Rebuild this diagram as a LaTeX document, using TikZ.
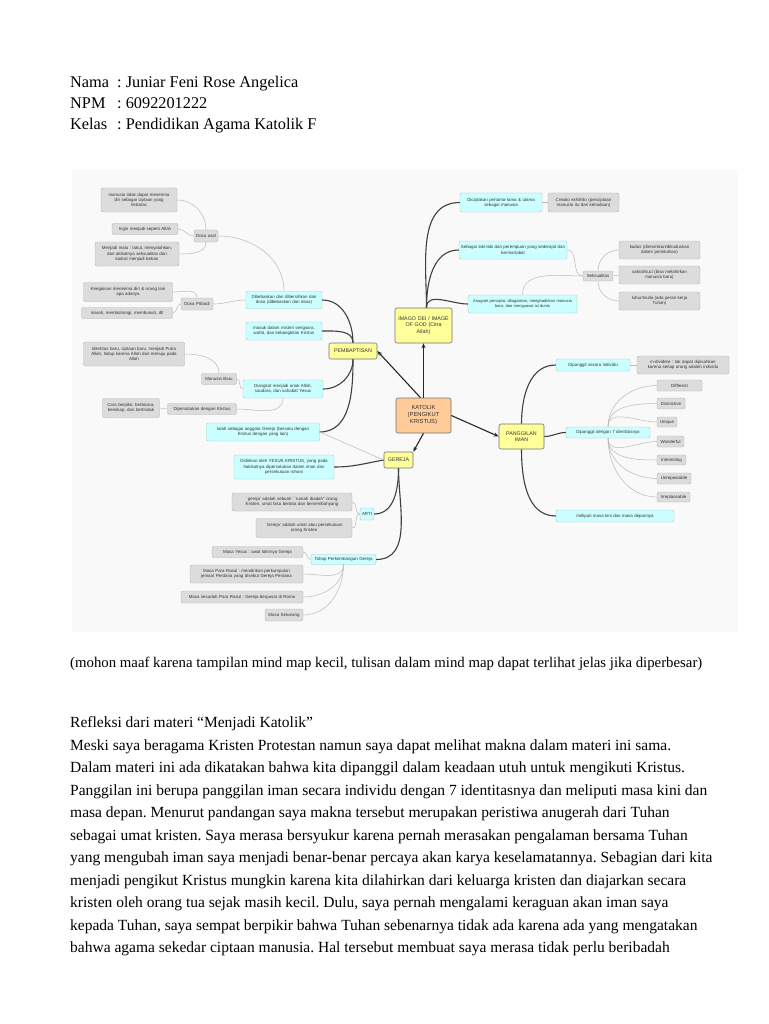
\documentclass[tikz,border=0pt]{standalone}
\usepackage{fontspec}
\setmainfont{Liberation Serif}
\newfontfamily\mmfont{Liberation Sans}
\usetikzlibrary{arrows.meta}
\definecolor{gbfill}{HTML}{DCDCDC}
\definecolor{gbdraw}{HTML}{B4B4B4}
\definecolor{cbfill}{HTML}{CCFFFF}
\definecolor{cbdraw}{HTML}{99CCCC}
\definecolor{ybfill}{HTML}{FFFF99}
\definecolor{obfill}{HTML}{FFCC99}
\definecolor{mapbg}{HTML}{F9F9F9}
\frenchspacing
\begin{document}
\begin{tikzpicture}[x=1pt,y=-1pt,
 mm/.style={font=\mmfont\fontsize{4.4}{5.2}\selectfont, text=black!80, rounded corners=2pt, align=center, inner sep=1pt, draw, line width=0.4pt},
 gb/.style={mm, fill=gbfill, draw=gbdraw},
 cb/.style={mm, fill=cbfill, draw=cbdraw},
 yb/.style={mm, fill=ybfill, draw=black!55, font=\mmfont\fontsize{5.3}{6.4}\selectfont, line width=0.6pt},
 ob/.style={yb, fill=obfill, font=\mmfont\fontsize{5.8}{7}\selectfont},
 mainarrow/.style={-{Stealth[length=5pt,width=4pt]}, line width=1.1pt, black!85},
 tb/.style={line width=1.1pt, black!75},
 lb/.style={line width=0.5pt, gray!55},
 hdr/.style={anchor=base west, inner sep=0, font=\fontsize{16.3}{18}\selectfont},
 body/.style={anchor=base west, inner sep=0, font=\fontsize{15.5}{18}\selectfont},
]
\useasboundingbox (0,0) rectangle (768,1024);
\fill[white] (0,0) rectangle (768,1024);
\fill[mapbg] (72,170) rectangle (738,632);

% header
\node[hdr] (l1) at (70,88) {Nama};
\node[hdr] (c1x) at (117,88) {: Juniar Feni Rose Angelica};
\node[hdr] (l2) at (70,109) {NPM};
\node[hdr] (c2x) at (117,109) {: 6092201222};
\node[hdr] (l3) at (70,129.5) {Kelas};
\node[hdr] (c3x) at (117,129.5) {: Pendidikan Agama Katolik F};

% ---------- mind map nodes ----------
% central
\node[ob, minimum width=55pt, minimum height=35pt, text width=53pt] (katolik) at (423.5,415.5) {KATOLIK\\(PENGIKUT\\KRISTUS)};
\node[yb, minimum width=57pt, minimum height=35pt, text width=55pt] (imago) at (423.5,325.5) {IMAGO DEI / IMAGE\\OF GOD (Citra\\Allah)};
\node[yb, minimum width=48pt, minimum height=16pt, text width=46pt] (pembaptisan) at (353,351) {PEMBAPTISAN};
\node[yb, minimum width=29pt, minimum height=16pt, text width=27pt] (gereja) at (398.5,460) {GEREJA};
\node[yb, minimum width=45pt, minimum height=25pt, text width=43pt] (panggilan) at (521.5,436.5) {PANGGILAN\\IMAN};

% left: pembaptisan
\node[cb, minimum height=17pt, text width=74pt] (b1) at (284,300) {Dibebaskan dan dibersihkan dari\\dosa (dibebaskan dari dosa)};
\node[cb, minimum height=18pt, text width=74pt] (b2) at (284,331) {masuk dalam misteri sengsara,\\wafat, dan kebangkitan Kristus};
\node[cb, minimum height=18pt, text width=78pt] (b3) at (283,389) {Diangkat menjadi anak Allah,\\saudara, dan sahabat Yesus};
\node[cb, minimum height=18pt, text width=111pt] (b4) at (263,432) {Ialah sebagai anggota Gereja (bersatu dengan\\Kristus dengan yang lain)};

\node[gb, minimum height=12pt, text width=22pt] (dosaasal) at (206,236) {Dosa asal};
\node[gb, minimum height=24pt, text width=74pt] (g1) at (139,200) {manusia tidak dapat menerima\\diri sebagai ciptaan yang\\terbatas};
\node[gb, minimum height=11pt, text width=64pt] (g2) at (145,229) {Ingin menjadi seperti Allah};
\node[gb, minimum height=24pt, text width=82pt] (g3) at (137,254) {Menjadi malu : takut, menyalahkan,\\dan akibatnya seksualitas dan\\kodrat menjadi beban};
\node[gb, minimum height=12pt, text width=30pt] (dosapribadi) at (197,304) {Dosa Pribadi};
\node[gb, minimum height=19pt, text width=87pt] (g5) at (128,292) {Keegoisan menerima diri \& orang lain\\apa adanya};
\node[gb, minimum height=11pt, text width=89pt] (g6) at (127,313) {marah, membohongi, membunuh, dll};
\node[gb, minimum height=24pt, text width=99pt] (g7) at (134,354) {Identitas baru, ciptaan baru, menjadi Putra\\Allah, hidup karena Allah dan menuju pada\\Allah};
\node[gb, minimum height=11pt, text width=33pt] (manusiabaru) at (219,379) {Manusia Baru};
\node[gb, minimum height=19pt, text width=55pt] (g8) at (131,408) {Cara berpikir, berbicara,\\bersikap, dan bertindak};
\node[gb, minimum height=11pt, text width=67pt] (dipersatukan) at (202,409) {Dipersatukan dengan Kristus};

% gereja
\node[cb, minimum height=24pt, text width=98pt] (b5) at (284,467) {Didirikan oleh YESUS KRISTUS, yang pada\\hakikatnya dipersatukan dalam iman dan\\persekutuan rohani};
\node[cb, minimum height=12pt, text width=12pt] (arti) at (367,514) {ARTI};
\node[gb, minimum height=18pt, text width=118pt] (g9) at (292,502) {`gereja' adalah sebuah ``rumah ibadah'' orang\\Kristen, umat bisa berdoa dan bersembahyang};
\node[gb, minimum height=19pt, text width=94pt] (g10) at (304,528) {`Gereja' adalah umat atau persekutuan\\orang Kristen};
\node[cb, minimum height=10pt, text width=63pt] (tahap) at (343.5,559.5) {Tahap Perkembangan Gereja};
\node[gb, minimum height=11pt, text width=89pt] (masayesus) at (257.5,552) {Masa Yesus : awal lahirnya Gereja};
\node[gb, minimum height=18pt, text width=111pt] (masarasul) at (246.5,574) {Masa Para Rasul : mendirikan perkumpulan\\jemaat Perdana yang disebut Gereja Perdana};
\node[gb, minimum height=12pt, text width=120pt] (masasesudah) at (242,597) {Masa sesudah Para Rasul : Gereja berpusat di Roma};
\node[gb, minimum height=12pt, text width=36pt] (masasekarang) at (284,615) {Masa Sekarang};

% right: imago dei
\node[cb, minimum height=19pt, text width=80pt] (b6) at (501,202.5) {Diciptakan pertama-tama \& utama\\sebagai manusia};
\node[gb, minimum height=19pt, text width=69pt] (creatio) at (583.5,202.5) {Creatio exNihilo (penciptaan\\manusia itu dari ketiadaan)};
\node[cb, minimum height=18pt, text width=106pt] (b7) at (513,250) {Sebagai laki-laki dan perempuan yang sederajat dan\\bermartabat};
\node[cb, minimum height=18pt, text width=107pt, font=\mmfont\fontsize{4.05}{5.2}\selectfont] (b8) at (522.5,304) {Anugrah pencipta: ditugaskan, menghadirkan manusia\\baru, dan menguasai isi dunia};
\node[gb, minimum height=10pt, text width=28pt] (seksualitas) at (598,276) {Seksualitas};
\node[gb, minimum height=18pt, text width=79pt] (kudus) at (659.5,250) {kudus (diresmikan/dikuduskan\\dalam pernikahan)};
\node[gb, minimum height=18pt, text width=79pt] (sakral) at (659.5,275) {sakral/suci (bisa melahirkan\\manusia baru)};
\node[gb, minimum height=18pt, text width=79pt] (luhur) at (659.5,301) {luhur/mulia (ada peran kerja\\Tuhan)};

% right: panggilan iman
\node[cb, minimum height=12pt, text width=72pt] (individu) at (593,365) {Dipanggil secara individu};
\node[gb, minimum height=18pt, text width=90pt] (individere) at (683,365) {in-dividere : tak dapat dipisahkan\\karena setiap orang adalah individu};
\node[cb, minimum height=11pt, text width=82pt] (tujuh) at (608,432.5) {Dipanggil dengan 7 identitasnya};
\node[gb, minimum height=11pt, text width=43pt] (different) at (679.5,385.5) {Different};
\node[gb, minimum height=11pt, text width=26pt] (distinctive) at (671,403.5) {Distinctive};
\node[gb, minimum height=10pt, text width=18pt] (unique) at (667,422) {Unique};
\node[gb, minimum height=11pt, text width=25pt] (wonderful) at (670.5,441.5) {Wonderful};
\node[gb, minimum height=10pt, text width=27pt] (interesting) at (671.5,460) {Interesting};
\node[gb, minimum height=11pt, text width=32pt] (unrepeatable) at (674,478.5) {Unrepeatable};
\node[gb, minimum height=10pt, text width=31pt] (irreplaceable) at (673.5,497) {Irreplaceable};
\node[cb, minimum height=12pt, text width=116pt] (meliputi) at (615,516) {meliputi masa kini dan masa depannya};

% ---------- connectors ----------
% main arrows
\draw[mainarrow] (katolik.north) -- (imago.south);
\draw[mainarrow] ([xshift=-3pt]katolik.north) -- (pembaptisan.east);
\draw[mainarrow] (katolik.east) -- (panggilan.west);
\draw[mainarrow] (katolik.south) -- (gereja.north east);

% thick branches
\draw[tb] ([xshift=3pt]imago.north) to[out=90,in=180] (b6.west);
\draw[tb] ([xshift=3pt]imago.north) to[out=90,in=180] (b7.west);
\draw[tb] ([xshift=3pt]imago.north) to[out=90,in=180] (b8.west);
\draw[tb] (pembaptisan.north) to[out=90,in=0] (b1.east);
\draw[tb] (pembaptisan.north) to[out=90,in=0] (b2.east);
\draw[tb] (pembaptisan.south) to[out=-90,in=0] (b3.east);
\draw[tb] (pembaptisan.south) to[out=-90,in=0] (b4.east);
\draw[tb] (gereja.west) to[out=190,in=0] (b5.east);
\draw[tb] (gereja.south) to[out=-90,in=0] (arti.east);
\draw[tb] (gereja.south) to[out=-90,in=0] (tahap.east);
\draw[tb] (panggilan.north) to[out=90,in=180] (individu.west);
\draw[tb] (panggilan.east) to[out=0,in=180] (tujuh.west);
\draw[tb] (panggilan.south) to[out=-90,in=180] (meliputi.west);

% light branches
\draw[lb] (b4.east) -- (gereja.west);
\draw[lb] (b1.north) to[out=90,in=0] (dosaasal.east);
\draw[lb] (b1.west) to[out=180,in=0] (dosapribadi.east);
\draw[lb] (dosaasal.north) to[out=90,in=0] (g1.east);
\draw[lb] (dosaasal.west) to[out=180,in=0] (g2.east);
\draw[lb] (dosaasal.south) to[out=-90,in=0] (g3.east);
\draw[lb] (dosapribadi.north) to[out=90,in=0] (g5.east);
\draw[lb] (dosapribadi.west) to[out=180,in=0] (g6.east);
\draw[lb] (b3.west) to[out=180,in=0] (manusiabaru.east);
\draw[lb] (manusiabaru.north) to[out=90,in=0] (g7.east);
\draw[lb] (b3.south) to[out=-90,in=0] (dipersatukan.east);
\draw[lb] (dipersatukan.west) -- (g8.east);
\draw[lb] (arti.west) to[out=180,in=0] (g9.east);
\draw[lb] (arti.west) to[out=180,in=0] (g10.east);
\draw[lb] (tahap.west) to[out=180,in=0] (masayesus.east);
\draw[lb] (tahap.south) to[out=-90,in=0] (masarasul.east);
\draw[lb] (tahap.south) to[out=-90,in=0] (masasesudah.east);
\draw[lb] (tahap.south) to[out=-90,in=0] (masasekarang.east);
\draw[lb] (b6.east) -- (creatio.west);
\draw[lb] (b7.east) to[out=0,in=180] (seksualitas.west);
\draw[lb] (b8.north) to[out=90,in=180] (seksualitas.west);
\draw[lb] (seksualitas.north) to[out=90,in=180] (kudus.west);
\draw[lb] (seksualitas.east) -- (sakral.west);
\draw[lb] (seksualitas.south) to[out=-90,in=180] (luhur.west);
\draw[lb] (individu.east) -- (individere.west);
\draw[lb] (tujuh.north) to[out=90,in=180] (different.west);
\draw[lb] (tujuh.north) to[out=90,in=180] (distinctive.west);
\draw[lb] (tujuh.north) to[out=90,in=180] (unique.west);
\draw[lb] (tujuh.south) to[out=-90,in=180] (wonderful.west);
\draw[lb] (tujuh.south) to[out=-90,in=180] (interesting.west);
\draw[lb] (tujuh.south) to[out=-90,in=180] (unrepeatable.west);
\draw[lb] (tujuh.south) to[out=-90,in=180] (irreplaceable.west);

% caption
\node[anchor=base west, inner sep=0, font=\fontsize{14.8}{16}\selectfont] (cap) at (70,667) {(mohon maaf karena tampilan mind map kecil, tulisan dalam mind map dapat terlihat jelas jika diperbesar)};

% body
\node[body] (r0) at (70,727) {Refleksi dari materi “Menjadi Katolik”};
\node[body] (r1) at (70,750) {Meski saya beragama Kristen Protestan namun saya dapat melihat makna dalam materi ini sama.};
\node[body] (r2) at (70,772.5) {Dalam materi ini ada dikatakan bahwa kita dipanggil dalam keadaan utuh untuk mengikuti Kristus.};
\node[body] (r3) at (70,795) {Panggilan ini berupa panggilan iman secara individu dengan 7 identitasnya dan meliputi masa kini dan};
\node[body] (r4) at (70,817.5) {masa depan. Menurut pandangan saya makna tersebut merupakan peristiwa anugerah dari Tuhan};
\node[body] (r5) at (70,840) {sebagai umat kristen. Saya merasa bersyukur karena pernah merasakan pengalaman bersama Tuhan};
\node[body] (r6) at (70,862.5) {yang mengubah iman saya menjadi benar-benar percaya akan karya keselamatannya. Sebagian dari kita};
\node[body] (r7) at (70,885) {menjadi pengikut Kristus mungkin karena kita dilahirkan dari keluarga kristen dan diajarkan secara};
\node[body] (r8) at (70,907.5) {kristen oleh orang tua sejak masih kecil. Dulu, saya pernah mengalami keraguan akan iman saya};
\node[body] (r9) at (70,930) {kepada Tuhan, saya sempat berpikir bahwa Tuhan sebenarnya tidak ada karena ada yang mengatakan};
\node[body] (r10) at (70,952.5) {bahwa agama sekedar ciptaan manusia. Hal tersebut membuat saya merasa tidak perlu beribadah};
\end{tikzpicture}
\end{document}
